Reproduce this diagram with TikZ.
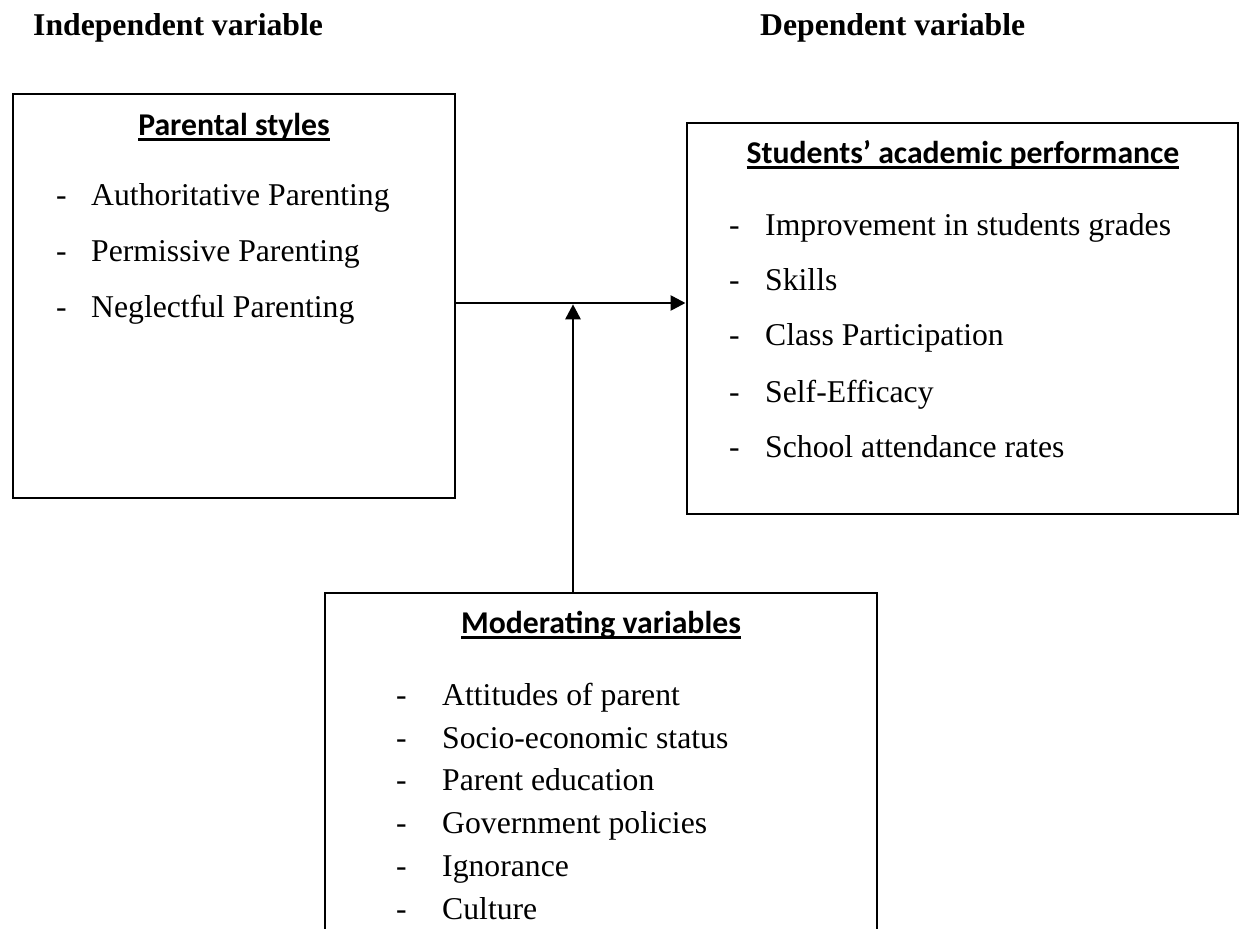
\documentclass[tikz,border=0pt]{standalone}
\usepackage{fontspec}
\setmainfont{Liberation Serif}
\newfontfamily\calibri{Carlito}
\usetikzlibrary{arrows.meta,positioning}
% underlined box heading
\newcommand\uhead[1]{{\calibri\bfseries\setbox0\hbox{#1}\rlap{\rule[-6pt]{\wd0}{2.8pt}}\box0}}

\begin{document}
\begin{tikzpicture}[x=1pt,y=-1pt,
  box/.style={draw,line width=2pt,inner sep=0pt},
  arrow/.style={-{Triangle[length=15pt,width=15pt]},line width=2.7pt},
  item/.style={anchor=base west,inner sep=0pt,font=\fontsize{31.7}{38}\selectfont},
  head/.style={anchor=base,inner sep=0pt,font=\fontsize{31.7}{38}\selectfont},
  title/.style={anchor=base west,inner sep=0pt,font=\fontsize{31.7}{38}\selectfont\bfseries}
  ]
  \useasboundingbox (0,0) rectangle (1240,929);
  \clip (0,0) rectangle (1240,929);

  \node[title] (indep) at (33,35) {Independent variable};
  \node[title] (dep) at (760,35) {Dependent variable};

  \node[box,minimum width=442pt,minimum height=404pt] (parental) at (234,296) {};
  \node[box,minimum width=551pt,minimum height=391pt] (performance) at (962,318.5) {};
  \node[box,minimum width=552pt,minimum height=367pt] (moderating) at (601,776.5) {};

  % box headings
  \node[head] (parentalhead) at (234,135) {\uhead{Parental styles}};
  \node[head] (performancehead) at (963,163) {\uhead{Students’ academic performance}};
  \node[head] (moderatinghead) at (601,633) {\uhead{Moderating variables}};

  % parental styles
  \node[item] (p1d) at (56,205) {-};
  \node[item] (p1) at (91,205) {Authoritative Parenting};
  \node[item] (p2d) at (56,261) {-};
  \node[item] (p2) at (91,261) {Permissive Parenting};
  \node[item] (p3d) at (56,317) {-};
  \node[item] (p3) at (91,317) {Neglectful Parenting};

  % academic performance
  \node[item] (s1d) at (729,235) {-};
  \node[item] (s1) at (765,235) {Improvement in students grades};
  \node[item] (s2d) at (729,290) {-};
  \node[item] (s2) at (765,290) {Skills};
  \node[item] (s3d) at (729,345) {-};
  \node[item] (s3) at (765,345) {Class Participation};
  \node[item] (s4d) at (729,402) {-};
  \node[item] (s4) at (765,402) {Self-Efficacy};
  \node[item] (s5d) at (729,457) {-};
  \node[item] (s5) at (765,457) {School attendance rates};

  % moderating variables
  \node[item] (m1d) at (396,705) {-};
  \node[item] (m1) at (442,705) {Attitudes of parent};
  \node[item] (m2d) at (396,748) {-};
  \node[item] (m2) at (442,748) {Socio-economic status};
  \node[item] (m3d) at (396,790) {-};
  \node[item] (m3) at (442,790) {Parent education};
  \node[item] (m4d) at (396,833) {-};
  \node[item] (m4) at (442,833) {Government policies};
  \node[item] (m5d) at (396,876) {-};
  \node[item] (m5) at (442,876) {Ignorance};
  \node[item] (m6d) at (396,919) {-};
  \node[item] (m6) at (442,919) {Culture};

  \coordinate (meet) at (573,303);
  \draw[arrow] (parental.east |- meet) -- (performance.west |- meet);
  \draw[arrow,shorten >=1.3pt] (moderating.north -| meet) -- (meet);
\end{tikzpicture}
\end{document}
